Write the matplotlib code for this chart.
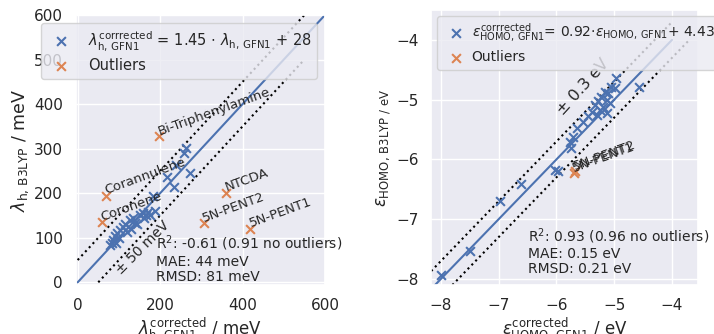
import numpy as np
import matplotlib
matplotlib.use("Agg")
import matplotlib.pyplot as plt
import seaborn as sns

sns.set_theme(style="darkgrid")
plt.rcParams['font.family'] = ['DejaVu Sans']

BLUE = "#4C72B0"
ORANGE = "#DD8452"

# ---------------- left panel data (meV) ----------------
lam_x = [262, 257, 238, 272, 216, 233, 182, 187, 170, 158, 151, 160, 134, 126, 138,
         109, 102, 95, 90, 85, 83, 78, 100, 115, 145, 165, 92, 130, 175, 120]
lam_y = [302, 291, 264, 246, 237, 213, 194, 161, 158, 156, 150, 145, 145, 141, 134,
         125, 118, 111, 103, 96, 89, 84, 100, 130, 130, 150, 88, 120, 150, 112]
lam_out_x = [197, 68, 58, 361, 306, 419]
lam_out_y = [328, 194, 135, 201, 133, 120]
lam_out_names = ["Bi-Triphenylamine", "Corannulene", "Coronene", "NTCDA", "5N-PENT2", "5N-PENT1"]

# ---------------- right panel data (eV) ----------------
eps_x = [-4.97, -5.06, -5.16, -5.10, -5.22, -5.13, -5.28, -5.07, -5.19, -5.33, -5.25,
         -5.39, -5.13, -5.45, -5.30, -5.54, -5.65, -5.71, -5.77, -5.74, -6.03, -4.57,
         -5.98, -6.61, -6.97, -7.49, -7.99, -4.99]
eps_y = [-4.64, -4.78, -4.87, -4.89, -4.95, -5.00, -5.03, -5.06, -5.12, -5.09, -5.17,
         -5.20, -5.23, -5.28, -5.26, -5.37, -5.48, -5.62, -5.70, -5.81, -6.18, -4.79,
         -6.19, -6.41, -6.69, -7.53, -7.93, -4.81]
eps_out_x = [-5.70, -5.68]
eps_out_y = [-6.23, -6.20]
eps_out_names = ["5N-PENT1", "5N-PENT2"]

fig = plt.figure(figsize=(7.14, 3.34), dpi=100)
ax1 = fig.add_axes([75.6/714, 49/334, 249.4/714, 270/334])
ax2 = fig.add_axes([431/714, 49/334, 267/714, 275/334])

# ---- left ----
ax1.plot([0, 600], [0, 600], color=BLUE, lw=1.5, zorder=2)
ax1.plot([0, 550], [50, 600], ls=":", color="black", lw=1.5, zorder=2)
ax1.plot([50, 550], [0, 500], ls=":", color="black", lw=1.5, zorder=2)
ax1.scatter(lam_x, lam_y, marker="x", color=BLUE, s=40, lw=1.5, zorder=3,
            label=r"$\lambda_{\mathrm{h,\,GFN1}}^{\mathrm{corrrected}}$ = 1.45 $\cdot$ $\lambda_{\mathrm{h,\,GFN1}}$ + 28")
ax1.scatter(lam_out_x, lam_out_y, marker="x", color=ORANGE, s=40, lw=1.5, zorder=3,
            label="Outliers")
for x, y, n in zip(lam_out_x, lam_out_y, lam_out_names):
    ax1.annotate(n, (x, y), xytext=(1, -1), textcoords="offset points", fontsize=9.5,
                 rotation=20, rotation_mode="anchor", ha="left", va="bottom",
                 color="0.15", zorder=4)
ax1.text(158, 78, "± 50 meV", rotation=45, ha="center", va="center", fontsize=10,
         color="0.15")
ax1.text(190, -3, "R$^2$: -0.61 (0.91 no outliers)\nMAE: 44 meV\nRMSD: 81 meV",
         fontsize=10, ha="left", va="bottom", color="0.15", linespacing=1.1)
ax1.set_xlim(-5, 600)
ax1.set_ylim(-6, 600)
ax1.set_xticks([0, 200, 400, 600])
ax1.set_yticks([0, 100, 200, 300, 400, 500, 600])
ax1.set_xlabel(r"$\lambda_{\mathrm{h,\,GFN1}}^{\mathrm{corrected}}$ / meV", fontsize=12, labelpad=2)
ax1.set_ylabel(r"$\lambda_{\mathrm{h,\,B3LYP}}$ / meV", fontsize=12.5, labelpad=2)
ax1.tick_params(labelsize=11, pad=3)
ax1.legend(loc="upper left", bbox_to_anchor=(41/714, 1 - 23/334),
           bbox_transform=fig.transFigure, borderaxespad=0, fontsize=10.5,
           framealpha=0.8, handletextpad=0.8, labelspacing=0.35)

# ---- right ----
ax2.plot([-8.3, -4.0], [-8.3, -4.0], color=BLUE, lw=1.5, zorder=2)
ax2.plot([-8.3, -4.0], [-8.0, -3.7], ls=":", color="black", lw=1.5, zorder=2)
ax2.plot([-8.0, -3.7], [-8.3, -4.0], ls=":", color="black", lw=1.5, zorder=2)
ax2.scatter(eps_x, eps_y, marker="x", color=BLUE, s=40, lw=1.5, zorder=3,
            label=r"$\epsilon_{\mathrm{HOMO,\,GFN1}}^{\mathrm{corrrected}}$= 0.92$\cdot\epsilon_{\mathrm{HOMO,\,GFN1}}$+ 4.43")
ax2.scatter(eps_out_x, eps_out_y, marker="x", color=ORANGE, s=40, lw=1.5, zorder=3,
            label="Outliers")
for x, y, n in zip(eps_out_x, eps_out_y, eps_out_names):
    ax2.annotate(n, (x, y), xytext=(1, -1), textcoords="offset points", fontsize=9.5,
                 rotation=20, rotation_mode="anchor", ha="left", va="bottom",
                 color="0.15", zorder=4)
ax2.text(-5.54, -4.79, "± 0.3 eV", rotation=48, ha="center", va="center", fontsize=11.5,
         color="0.15")
ax2.text(-6.49, -7.95, "R$^2$: 0.93 (0.96 no outliers)\nMAE: 0.15 eV\nRMSD: 0.21 eV",
         fontsize=10, ha="left", va="bottom", color="0.15", linespacing=1.1)
ax2.set_xlim(-8.17, -3.55)
ax2.set_ylim(-8.1, -3.5)
ax2.set_xticks([-8, -7, -6, -5, -4])
ax2.set_yticks([-8, -7, -6, -5, -4])
ax2.set_xlabel(r"$\epsilon_{\mathrm{HOMO,\,GFN1}}^{\mathrm{corrected}}$ / eV", fontsize=12, labelpad=2)
ax2.set_ylabel(r"$\epsilon_{\mathrm{HOMO,\,B3LYP\ /\ eV}}$", fontsize=12, labelpad=2)
ax2.tick_params(labelsize=11, pad=3)
ax2.legend(loc="upper left", bbox_to_anchor=(437/714, 1 - 16/334),
           bbox_transform=fig.transFigure, borderaxespad=0, fontsize=10,
           framealpha=0.8, handletextpad=0.1, labelspacing=0.45)

fig.savefig("out.png", dpi=100)
